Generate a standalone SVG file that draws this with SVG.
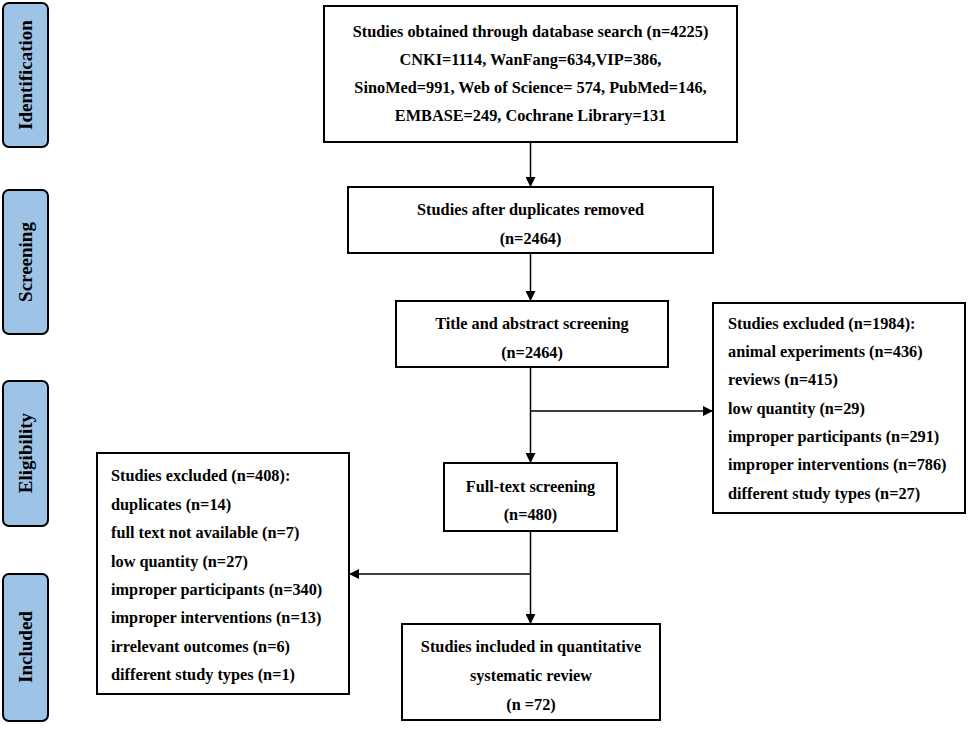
<svg xmlns="http://www.w3.org/2000/svg" width="969" height="729" viewBox="0 0 969 729">
<style>
  .box{fill:#fff;stroke:#000;stroke-width:2}
  .side{fill:#9dc3e6;stroke:#000;stroke-width:2}
  .t{font-family:"Liberation Serif","Times New Roman",serif;font-weight:bold;font-size:16.3px;fill:#000}
  .c{text-anchor:middle}
  .s{font-family:"Liberation Serif","Times New Roman",serif;font-weight:bold;font-size:19px;fill:#000;text-anchor:middle}
  .ln{stroke:#000;stroke-width:1.5;fill:none}
</style>
<defs>
  <marker id="ah" viewBox="0 0 10 10" refX="10" refY="5" markerWidth="10" markerHeight="10" markerUnits="userSpaceOnUse" orient="auto">
    <path d="M0,0 L10,5 L0,10 z" fill="#000"/>
  </marker>
</defs>
<rect width="969" height="729" fill="#fff"/>

<g id="side-identification"><rect class="side" x="3" y="3" width="45" height="144" rx="6"/><text class="s" transform="translate(32,75) rotate(-90)">Identification</text></g>
<g id="side-screening"><rect class="side" x="3" y="190" width="45" height="144" rx="6"/><text class="s" transform="translate(32,262) rotate(-90)">Screening</text></g>
<g id="side-eligibility"><rect class="side" x="3" y="381" width="45" height="145" rx="6"/><text class="s" transform="translate(32,453) rotate(-90)">Eligibility</text></g>
<g id="side-included"><rect class="side" x="3" y="574" width="45" height="147" rx="6"/><text class="s" transform="translate(32,647) rotate(-90)">Included</text></g>

<g id="connectors">
  <line class="ln" x1="530.5" y1="142" x2="530.5" y2="187" marker-end="url(#ah)"/>
  <line class="ln" x1="530.5" y1="253" x2="530.5" y2="301" marker-end="url(#ah)"/>
  <line class="ln" x1="530.5" y1="367" x2="530.5" y2="463" marker-end="url(#ah)"/>
  <line class="ln" x1="530.5" y1="411" x2="713" y2="411" marker-end="url(#ah)"/>
  <line class="ln" x1="530.5" y1="531" x2="530.5" y2="624" marker-end="url(#ah)"/>
  <line class="ln" x1="530.5" y1="574" x2="349" y2="574" marker-end="url(#ah)"/>
</g>

<g id="n-search">
  <rect class="box" x="324" y="6" width="413" height="136"/>
  <text class="t c" x="530.5" y="37">Studies obtained through database search (n=4225)</text>
  <text class="t c" x="530.5" y="65">CNKI=1114, WanFang=634,VIP=386,</text>
  <text class="t c" x="530.5" y="93">SinoMed=991, Web of Science= 574, PubMed=146,</text>
  <text class="t c" x="530.5" y="121">EMBASE=249, Cochrane Library=131</text>
</g>
<g id="n-dedup">
  <rect class="box" x="348" y="187" width="365" height="66"/>
  <text class="t c" x="530.5" y="215">Studies after duplicates removed</text>
  <text class="t c" x="530.5" y="244">(n=2464)</text>
</g>
<g id="n-title">
  <rect class="box" x="396" y="301" width="272" height="66"/>
  <text class="t c" x="532" y="329">Title and abstract screening</text>
  <text class="t c" x="532" y="358">(n=2464)</text>
</g>
<g id="n-excl1">
  <rect class="box" x="713" y="303" width="252" height="210"/>
  <text class="t" x="728" y="329">Studies excluded (n=1984):</text>
  <text class="t" x="728" y="357">animal experiments (n=436)</text>
  <text class="t" x="728" y="385">reviews (n=415)</text>
  <text class="t" x="728" y="414">low quantity (n=29)</text>
  <text class="t" x="728" y="442">improper participants (n=291)</text>
  <text class="t" x="728" y="470">improper interventions (n=786)</text>
  <text class="t" x="728" y="499">different study types (n=27)</text>
</g>
<g id="n-fulltext">
  <rect class="box" x="444" y="463" width="173" height="68"/>
  <text class="t c" x="530.5" y="492">Full-text screening</text>
  <text class="t c" x="530.5" y="520">(n=480)</text>
</g>
<g id="n-excl2">
  <rect class="box" x="97" y="453" width="252" height="241"/>
  <text class="t" x="111" y="481">Studies excluded (n=408):</text>
  <text class="t" x="111" y="510">duplicates (n=14)</text>
  <text class="t" x="111" y="538">full text not available (n=7)</text>
  <text class="t" x="111" y="567">low quantity (n=27)</text>
  <text class="t" x="111" y="595">improper participants (n=340)</text>
  <text class="t" x="111" y="623">improper interventions (n=13)</text>
  <text class="t" x="111" y="652">irrelevant outcomes (n=6)</text>
  <text class="t" x="111" y="680">different study types (n=1)</text>
</g>
<g id="n-included">
  <rect class="box" x="402" y="624" width="258" height="96"/>
  <text class="t c" x="531" y="652">Studies included in quantitative</text>
  <text class="t c" x="531" y="681">systematic review</text>
  <text class="t c" x="531" y="710">(n =72)</text>
</g>
</svg>
